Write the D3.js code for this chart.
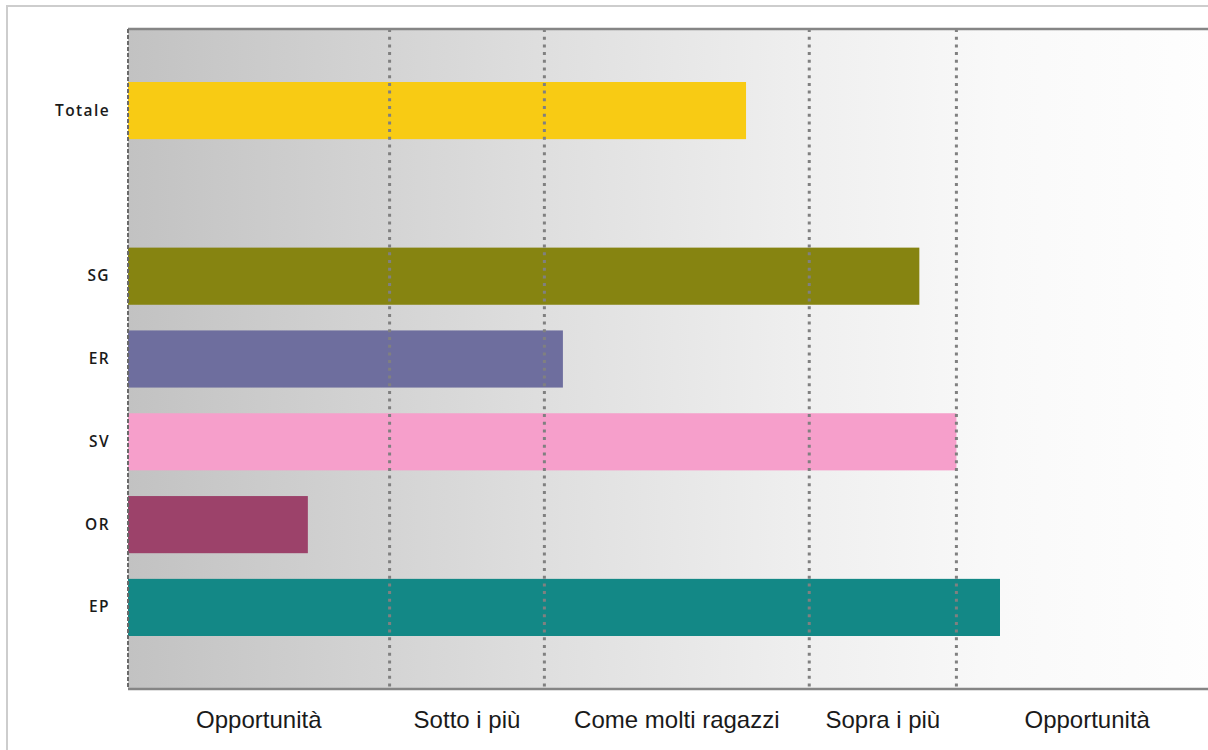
<!DOCTYPE html>
<html>
<head>
<meta charset="utf-8">
<script src="https://cdn.jsdelivr.net/npm/d3@7"></script>
<style>
    body { margin: 0; background: #fff; }
    svg { display: block; }
</style>
</head>
<body>
<svg id="mainFrame"></svg>
<script>
// categories (the blank one is the gap under Totale)
const categories = ['Totale', 'gap', 'SG', 'ER', 'SV', 'OR', 'EP'];
const values = [56.7, null, 72.6, 39.9, 76.0, 16.5, 80.0];
const barColors = ['#f8cb14', null, '#868411', '#6e6e9e', '#f69fcb', '#9c426a', '#138886'];

// zone boundaries on the x scale and the zone names
const zoneBreaks = [0, 24, 38.2, 62.5, 76, 100];
const zoneLabels = ['Opportunità', 'Sotto i più', 'Come molti ragazzi', 'Sopra i più', 'Opportunità'];

const data = categories.map((c, i) => ({ cat: c, value: values[i], color: barColors[i] }))
    .filter(d => d.value !== null);

const width = 1208, height = 750;
const svg = d3.select('#mainFrame')
    .attr('width', width)
    .attr('height', height);

const plot = { left: 128, right: 1218, top: 29, bottom: 689 };

const xScale = d3.scaleLinear()
    .domain([0, 100])
    .range([plot.left, plot.right]);

const yScale = d3.scaleBand()
    .domain(categories)
    .range([plot.top, plot.bottom])
    .paddingInner(0.31)
    .paddingOuter(0.64);

// outer frame
svg.append('path')
    .attr('d', `M7,${height} L7,6 L${width},6`)
    .attr('fill', 'none')
    .attr('stroke', '#cdcdcd')
    .attr('stroke-width', 2);

// background gradient, grey on the left fading to white
const grad = svg.append('defs').append('linearGradient')
    .attr('id', 'bg')
    .attr('x1', 0).attr('x2', 1).attr('y1', 0).attr('y2', 0);
grad.append('stop').attr('offset', '0%').attr('stop-color', '#c2c2c2');
grad.append('stop').attr('offset', '40%').attr('stop-color', '#e0e0e0');
grad.append('stop').attr('offset', '62%').attr('stop-color', '#efefef');
grad.append('stop').attr('offset', '80%').attr('stop-color', '#f9f9f9');
grad.append('stop').attr('offset', '100%').attr('stop-color', '#fefefe');

svg.append('rect')
    .attr('x', plot.left)
    .attr('y', plot.top)
    .attr('width', plot.right - plot.left)
    .attr('height', plot.bottom - plot.top)
    .attr('fill', 'url(#bg)');

// bars
svg.selectAll('rect.bar').data(data)
    .enter().append('rect')
        .attr('class', 'bar')
        .attr('x', xScale(0))
        .attr('y', d => yScale(d.cat))
        .attr('width', d => xScale(d.value) - xScale(0))
        .attr('height', yScale.bandwidth())
        .attr('fill', d => d.color);

// dotted zone separators
svg.selectAll('line.zone').data(zoneBreaks.slice(1, -1))
    .enter().append('line')
        .attr('class', 'zone')
        .attr('x1', d => xScale(d)).attr('x2', d => xScale(d))
        .attr('y1', plot.top).attr('y2', plot.bottom)
        .attr('stroke', '#808080')
        .attr('stroke-width', 3)
        .attr('stroke-dasharray', '3,4.7');

// frame lines of the plot
svg.append('line')
    .attr('x1', plot.left).attr('x2', width)
    .attr('y1', plot.top).attr('y2', plot.top)
    .attr('stroke', '#858585').attr('stroke-width', 2.5);
svg.append('line')
    .attr('x1', plot.left).attr('x2', width)
    .attr('y1', plot.bottom).attr('y2', plot.bottom)
    .attr('stroke', '#858585').attr('stroke-width', 2.5);
svg.append('line')
    .attr('x1', plot.left).attr('x2', plot.left)
    .attr('y1', plot.top).attr('y2', plot.bottom)
    .attr('stroke', '#6a6a6a').attr('stroke-width', 2)
    .attr('stroke-dasharray', '4,2');

// y axis labels
const yAxis = d3.axisLeft(yScale)
    .tickSize(0)
    .tickPadding(18)
    .tickFormat(d => d === 'gap' ? '' : d);

const yAxisGroup = svg.append('g')
    .attr('transform', `translate(${plot.left},0)`)
    .call(yAxis);
yAxisGroup.select('.domain').remove();
yAxisGroup.selectAll('text')
    .attr('font-family', 'Open Sans, sans-serif')
    .attr('font-size', 15.5)
    .attr('font-weight', 600)
    .attr('letter-spacing', '1.4px')
    .attr('fill', '#1a1a1a');

// zone names under the plot
svg.selectAll('text.zoneLabel').data(zoneLabels)
    .enter().append('text')
        .attr('class', 'zoneLabel')
        .attr('x', (d, i) => (xScale(zoneBreaks[i]) + xScale(zoneBreaks[i + 1])) / 2)
        .attr('y', 728)
        .attr('text-anchor', 'middle')
        .attr('font-family', 'Liberation Sans, Arial, sans-serif')
        .attr('font-size', 24)
        .attr('fill', '#1a1a1a')
        .text(d => d);
</script>
</body>
</html>
